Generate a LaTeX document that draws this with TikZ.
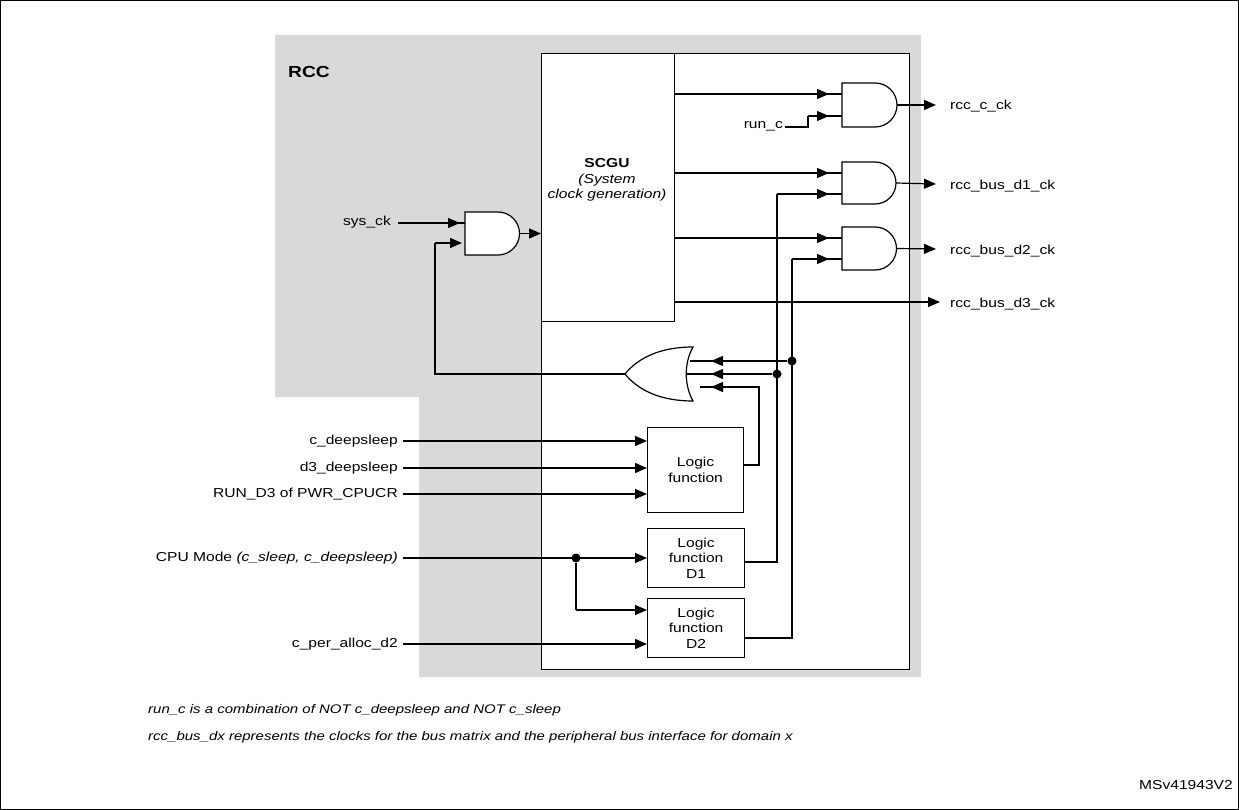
\documentclass[tikz,border=0pt]{standalone}
\usepackage{fontspec}
\setmainfont[FakeStretch=1.2]{Liberation Sans}
\usetikzlibrary{arrows.meta}
\begin{document}
\begin{tikzpicture}[x=1pt,y=-1pt,
  every node/.style={font=\fontsize{13}{15.5}\selectfont, inner sep=0pt},
  wire/.style={line width=1.2pt},
  arr/.style={wire,-{Triangle[length=12pt,width=10pt]}},
  box/.style={draw,line width=1.2pt,fill=white},
  gate/.style={draw,line width=1.2pt,fill=white},
  dot/.style={circle,fill=black,minimum size=9pt,inner sep=0pt},
  big/.style={font=\fontsize{16}{19}\selectfont\bfseries},
  note/.style={font=\fontsize{12.5}{15}\selectfont\itshape}]
\useasboundingbox (0,0) rectangle (1239,810);
\draw[line width=1pt] (0.5,0.5) rectangle (1238.5,809.5);
% gray RCC region
\fill[gray!30] (275,35) -- (921,35) -- (921,677) -- (419,677) -- (419,397) -- (275,397) -- cycle;
\node[big,anchor=west] (rcc) at (288,72) {RCC};
% SCEU
\node[box,minimum width=368pt,minimum height=616pt,anchor=north west] (sceu) at (541,53) {};
\node[big,anchor=west] (sceul) at (597,70) {SCEU};
\node[box,minimum width=133pt,minimum height=268pt,anchor=north west] (scgu) at (541,53) {};
\node[align=center] (scgut) at (607,180) {\textbf{SCGU}\\\textit{(System}\\\textit{clock generation)}};
% AND gates
\newcommand\myand[4]{% name, left x, top y, bottom y
 \draw[gate] (#2,#3) -- ({#2+33},#3) arc(-90:90:{(#4-#3)/2}) -- (#2,#4) -- cycle;
 \coordinate (#1) at ({#2+33+(#4-#3)/2},{(#3+#4)/2});}
\myand{g0}{465}{212}{255}
\myand{g1}{842}{83}{127}
\myand{g2}{842}{162}{204}
\myand{g3}{842}{227}{270}
% OR gate
\draw[gate] (693,347) .. controls (660,347) and (638,358) .. (625,374)
  .. controls (638,390) and (660,401) .. (693,401)
  .. controls (684,385) and (684,363) .. (693,347) -- cycle;
\coordinate (orout) at (625,374);
% sys_ck
\node[anchor=east] (sysck) at (391,222) {sys\_ck};
\draw[arr] (398,223) -- (460,223); \draw[wire] (455,223)--(465,223);
\draw[arr] (g0) -- (scgu.west |- g0);
\draw[wire] (orout) -- (435,374) -- (435,243);
\draw[arr] (435,243) -- (462,243);
% SCGU outputs
\draw[arr] (674,94) -- (829,94); \draw[wire] (825,94)--(842,94);
\draw[arr] (674,173) -- (829,173); \draw[wire] (825,173)--(842,173);
\draw[arr] (674,238) -- (829,238); \draw[wire] (825,238)--(842,238);
\draw[arr] (674,302) -- (940,302);
\node[anchor=west] (o3) at (950,304) {rcc\_bus\_d3\_ck};
% run_c
\node[anchor=east] (runc) at (783,126) {run\_c};
\draw[wire] (785,127) -- (808,127) -- (808,116);
\draw[arr] (808,116) -- (829,116); \draw[wire] (825,116)--(842,116);
% gate outputs
\draw[arr] (g1) -- (936,105); \node[anchor=west] (o0) at (950,106) {rcc\_c\_ck};
\draw[arr] (g2) -- (936,184); \node[anchor=west] (o1) at (950,186) {rcc\_bus\_d1\_ck};
\draw[arr] (g3) -- (936,249); \node[anchor=west] (o2) at (950,251) {rcc\_bus\_d2\_ck};
% logic boxes
\node[box,minimum width=96pt,minimum height=85pt,anchor=north west,align=center] (lf) at (647,427) {};
\node[align=center] at (lf) {Logic\\function};
\node[box,minimum width=97pt,minimum height=59pt,anchor=north west] (lf1) at (647,528) {};
\node[align=center] at (lf1) {Logic\\function\\D1};
\node[box,minimum width=97pt,minimum height=59pt,anchor=north west] (lf2) at (647,598) {};
\node[align=center] at (lf2) {Logic\\function\\D2};
% left inputs
\node[anchor=east] (i1) at (398,441) {c\_deepsleep};
\node[anchor=east] (i2) at (398,468) {d3\_deepsleep};
\node[anchor=east] (i3) at (398,494) {RUN\_D3 of PWR\_CPUCR};
\node[anchor=east] (i4) at (398,558) {CPU Mode \textit{(c\_sleep, c\_deepsleep)}};
\node[anchor=east] (i5) at (398,644) {c\_per\_alloc\_d2};
\draw[arr] (403,441) -- (647,441);
\draw[arr] (403,468) -- (647,468);
\draw[arr] (403,494) -- (647,494);
\draw[arr] (403,558) -- (647,558);
\draw[arr] (403,644) -- (647,644);
\node[dot] (d0) at (576,558) {};
\draw[wire] (d0) -- (576,610); \draw[arr] (576,610) -- (647,610);
% logic outputs
\draw[wire] (743,465) -- (759,465) -- (759,387) -- (700,387);
\draw[arr] (759,387) -- (711,387);
\node[dot] (d1) at (777,374) {};
\node[dot] (d2) at (792,361) {};
\draw[wire] (744,562) -- (777,562) -- (777,194);
\draw[arr] (777,194) -- (829,194); \draw[wire] (825,194)--(842,194);
\draw[wire] (744,638) -- (792,638) -- (792,259);
\draw[arr] (792,259) -- (829,259); \draw[wire] (825,259)--(842,259);
\draw[wire] (d1) -- (687,374); \draw[arr] (d1) -- (711,374);
\draw[wire] (d2) -- (690,361); \draw[arr] (d2) -- (711,361);
% notes
\node[note,anchor=west] (n1) at (148,710) {run\_c is a combination of NOT c\_deepsleep and NOT c\_sleep};
\node[note,anchor=west] (n2) at (148,737) {rcc\_bus\_dx represents the clocks for the bus matrix and the peripheral bus interface for domain x};
\node[anchor=east] (ms) at (1233,785) {MSv41943V2};
\end{tikzpicture}
\end{document}
